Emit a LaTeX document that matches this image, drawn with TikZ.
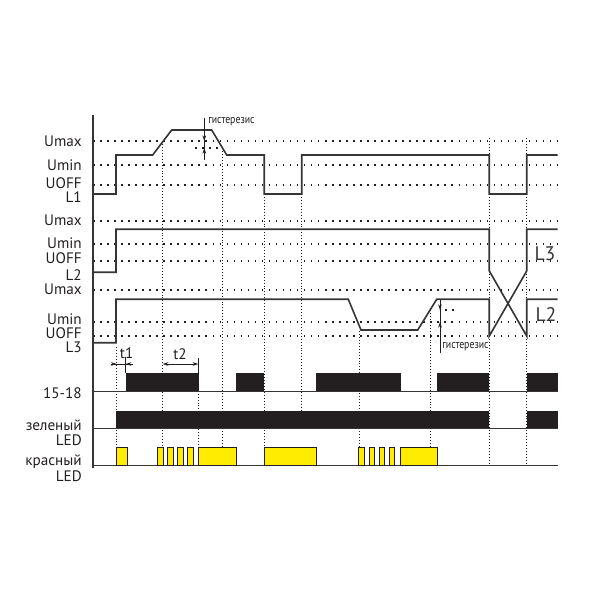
\documentclass[tikz,border=0pt]{standalone}
\usepackage{fontspec}
\setmainfont{PT Sans}
\newfontfamily\narrowfont[FakeStretch=0.82]{PT Sans}
\usetikzlibrary{arrows.meta}
\definecolor{ink}{HTML}{231F20}
\definecolor{wave}{HTML}{353535}
\definecolor{ledyellow}{HTML}{FFEC00}
\begin{document}
\begin{tikzpicture}[x=0.25mm, y=-0.25mm,
  level/.style={draw=ink, line width=0.75pt, dash pattern=on 1.1pt off 3.9pt},
  guide/.style={draw=ink, line width=0.6pt, dash pattern=on 0.6pt off 1.5pt},
  signal/.style={draw=wave, line width=1.15pt},
  lbl/.style={anchor=base east, inner sep=0pt, text=ink, font=\fontsize{10.8}{10.8}\selectfont},
  phase/.style={inner sep=0pt, text=wave, font=\fontsize{14}{14}\selectfont},
  hyst/.style={anchor=base west, inner sep=0pt, text=ink, font=\narrowfont\fontsize{8.5}{8.5}\selectfont},
  relaybar/.style={fill=ink},
  ledbar/.style={fill=ledyellow, draw=ink, line width=0.6pt},
  tip/.style={-{Stealth[length=4pt,width=2.6pt]}, draw=ink, line width=0.6pt}]
\useasboundingbox (0,0) rectangle (600,600);

% levels
\foreach \yy in {141,165,185,221,244,261,290,322,336}
  \draw[level] (93,\yy) -- (558,\yy);
\draw[level] (195,148) -- (221,148);
\draw[level] (445,310) -- (456,310);

% time marks
\foreach \xx/\ya/\yb in {116.7/347/447, 162.7/141/447, 198.3/373/447, 222.5/148/447,
    264.3/194/447, 301.7/194/410, 359.5/331/447, 430.5/310/447, 489.3/138/465, 526.7/138/465}
  \draw[guide] (\xx,\ya) -- (\xx,\yb);

% left labels
\node[lbl] (umax1) at (82,146) {Umax};
\node[lbl] (umin1) at (82,170) {Umin};
\node[lbl] (uoff1) at (82,188.3) {UOFF};
\node[lbl] (l1) at (82,202.7) {L1};
\node[lbl] (umax2) at (82,225) {Umax};
\node[lbl] (umin2) at (82,248.3) {Umin};
\node[lbl] (uoff2) at (82,263.3) {UOFF};
\node[lbl] (l2) at (82,280) {L2};
\node[lbl] (umax3) at (82,294.3) {Umax};
\node[lbl] (umin3) at (82,324.8) {Umin};
\node[lbl] (uoff3) at (82,338) {UOFF};
\node[lbl] (l3) at (82,352) {L3};
\node[lbl] (relay) at (82,398.3) {15-18};
\node[lbl] (green) at (82,430) {зеленый};
\node[lbl] (greenled) at (82,445) {LED};
\node[lbl] (red) at (82,465) {красный};
\node[lbl] (redled) at (82,481.7) {LED};

% axis and base lines
\draw[wave, line width=1pt] (93,115) -- (93,468);
\draw[wave, line width=0.7pt] (93,391) -- (558,391);
\draw[wave, line width=0.7pt] (93,428) -- (558,428);
\draw[wave, line width=0.7pt] (93,465) -- (558,465);

% phase signals
\draw[signal] (93,194) -- (116,194) -- (116,155) -- (152.7,155) -- (171.7,130) -- (211.7,130)
  -- (226.7,155) -- (264.3,155) -- (264.3,194) -- (301.7,194) -- (301.7,155) -- (489.3,155)
  -- (489.3,194) -- (526.7,194) -- (526.7,155) -- (557.7,155);
\draw[signal] (93,272.3) -- (116,272.3) -- (116,229.3) -- (489.3,229.3) -- (489.3,271)
  -- (526.7,336) -- (526.7,299.3) -- (557.7,299.3);
\draw[signal] (93,342.7) -- (116,342.7) -- (116,299.3) -- (348.3,299.3) -- (361,330)
  -- (417.7,330) -- (436.7,299.3) -- (489.3,299.3) -- (489.3,336) -- (526.7,271)
  -- (526.7,229.3) -- (557.7,229.3);
\node[phase] (swap3) at (545,254) {L3};
\node[phase] (swap2) at (546,314) {L2};

% hysteresis
\draw[ink, line width=0.6pt] (204.3,118) -- (204.3,160);
\draw[tip] (204.3,125) -- (204.3,141);
\draw[tip] (204.3,160) -- (204.3,148);
\node[hyst] (hyst1) at (208,123) {гистерезис};
\draw[ink, line width=0.6pt] (440,300) -- (440,353);
\draw[tip] (440,300) -- (440,310);
\draw[tip] (440,353) -- (440,322);
\node[hyst] (hyst2) at (442,348) {гистерезис};

% delays
\node[inner sep=0pt, text=ink, font=\fontsize{10.8}{10.8}\selectfont] (t1) at (126.7,353) {t1};
\node[inner sep=0pt, text=ink, font=\fontsize{10.8}{10.8}\selectfont] (t2) at (180,354) {t2};
\draw[ink, line width=0.6pt] (110.7,364) -- (133.3,364);
\draw[tip] (110.7,364) -- (116.7,364);
\draw[tip] (133.3,364) -- (125.7,364);
\draw[ink, line width=0.6pt] (125.7,357) -- (125.7,373.3);
\draw[tip] (180,364) -- (162.7,364);
\draw[tip] (180,364) -- (198.3,364);
\draw[ink, line width=0.6pt] (198.3,358) -- (198.3,373.3);

% relay 15-18
\foreach \xa/\xb in {125.7/199, 236/264.3, 316/400.7, 437.3/489.3, 526.7/558.3}
  \fill[relaybar] (\xa,373.3) rectangle (\xb,391);
% green LED
\fill[relaybar] (116,410.7) rectangle (489.3,428);
\fill[relaybar] (526.7,410.7) rectangle (558.3,428);
% red LED
\foreach \xa/\xb in {116/127, 198.3/236, 264.3/316, 400/437.3}
  \draw[ledbar] (\xa,447.7) rectangle (\xb,465);
\foreach \xa in {157.7,167.5,177.6,187.7,358.7,369,379.2,389.3}
  \draw[ledbar] (\xa,447.7) rectangle ++(5.6,17.3);
\end{tikzpicture}
\end{document}
